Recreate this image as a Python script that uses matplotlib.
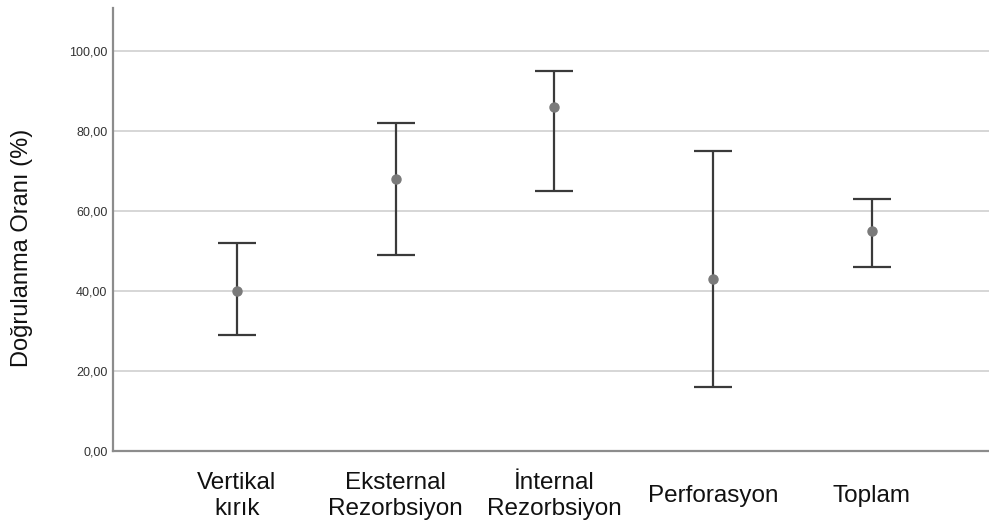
import matplotlib
matplotlib.use("Agg")
import matplotlib.pyplot as plt
import numpy as np

categories = ["Vertikal\nkırık", "Eksternal\nRezorbsiyon", "İnternal\nRezorbsiyon", "Perforasyon", "Toplam"]
means = [40, 68, 86, 43, 55]
upper = [52, 82, 95, 75, 63]
lower = [29, 49, 65, 16, 46]
yticks = [0, 20, 40, 60, 80, 100]
ytick_labels = ["0,00", "20,00", "40,00", "60,00", "80,00", "100,00"]

plt.rcParams['font.family'] = ['Liberation Sans', 'DejaVu Sans']

fig = plt.figure(figsize=(9.89, 5.27), dpi=100)
ax = fig.add_axes([113/989, 76/527, 876/989, 443/527])

x = np.arange(len(categories))
means_a = np.array(means)
err = [means_a - np.array(lower), np.array(upper) - means_a]

for yv in yticks[1:]:
    ax.axhline(yv, color="#cfcfcf", lw=1.2, zorder=0)

ax.errorbar(x, means, yerr=err, fmt="none", ecolor="#3a3a3a", elinewidth=1.6,
            capsize=14, capthick=1.6, zorder=2)
ax.plot(x, means, "o", color="#7a7a7a", markersize=6.5, zorder=3)

ax.set_xlim(-0.781, 4.737)
ax.set_ylim(0, 110.75)
ax.set_yticks(yticks)
ax.set_yticklabels(ytick_labels, fontsize=9, color="#333333")
ax.set_xticks(x)
ax.set_xticklabels(categories, fontsize=17.5, color="#111111", linespacing=1.2)
for lab in ax.get_xticklabels():
    lab.set_va("center")
ax.tick_params(axis="x", length=0, pad=32.4)
ax.tick_params(axis="y", length=0, pad=4)

for s in ["top", "right"]:
    ax.spines[s].set_visible(False)
for s in ["left", "bottom"]:
    ax.spines[s].set_color("#8c8c8c")
    ax.spines[s].set_linewidth(1.6)

fig.text(22/989, 1 - 248/527, "Doğrulanma Oranı (%)", rotation=90, ha="center",
         va="center", fontsize=17, color="#111111")

fig.savefig("out.png", dpi=100)
